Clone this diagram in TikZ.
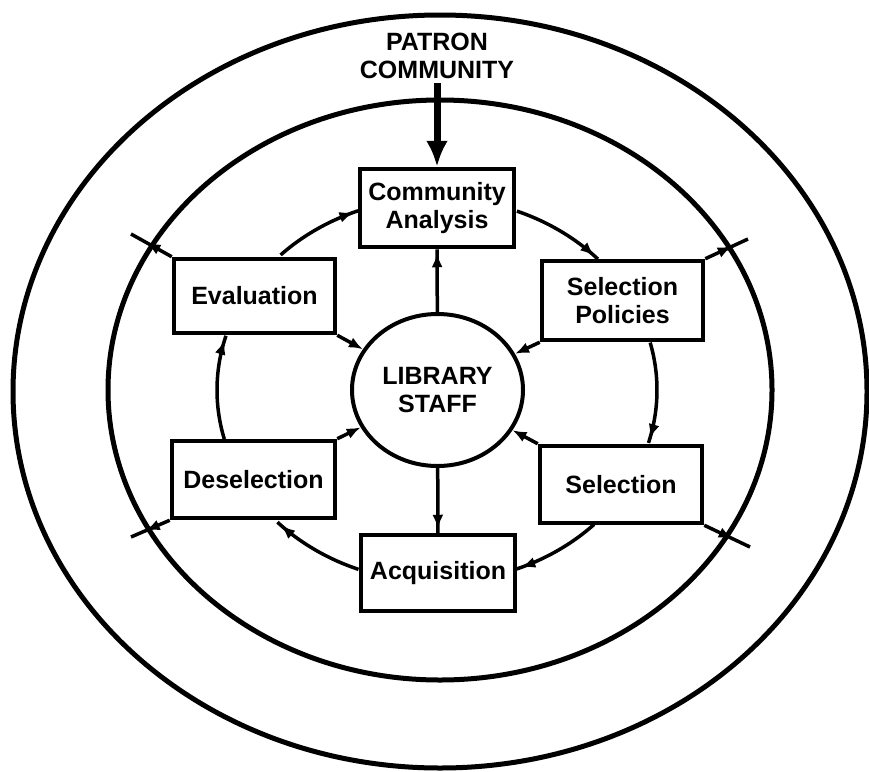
\documentclass[tikz,border=0pt]{standalone}
\usepackage{fontspec}
\setmainfont{Liberation Sans}
\usetikzlibrary{arrows.meta,decorations.markings,shapes.geometric}
\begin{document}
\begin{tikzpicture}[x=1pt,y=-1pt,
  >={Latex[length=14pt,width=11pt]},
  ring/.style={line width=5pt},
  stage/.style={draw, line width=4.5pt, fill=white, inner sep=0pt, align=center,
    font=\fontsize{25}{28}\selectfont\bfseries},
  conn/.style={line width=3.5pt},
  tipat/.style={postaction={decorate},
    decoration={markings, mark=at position #1 with {\arrow{>}}}},
]
\useasboundingbox (0,0) rectangle (869,771);
% rings
\draw[ring] (440,391.5) ellipse[x radius=427, y radius=376.5];
\draw[ring] (440,390) ellipse[x radius=332, y radius=290];
% nodes
\node[font=\fontsize{25}{28}\selectfont\bfseries, align=center, inner sep=4pt]
  (patron) at (437,56) {PATRON\\COMMUNITY};
\node[stage, minimum width=154pt, minimum height=78pt] (comm) at (437,208) {Community\\Analysis};
\node[stage, minimum width=161pt, minimum height=74pt] (eval) at (254.5,296) {Evaluation};
\node[stage, minimum width=161pt, minimum height=79pt] (spol) at (622.5,300.5) {Selection\\Policies};
\node[stage, minimum width=163pt, minimum height=77pt] (desel) at (253.5,479.5) {Deselection};
\node[stage, minimum width=162pt, minimum height=77pt] (sel) at (621,484.5) {Selection};
\node[stage, minimum width=154pt, minimum height=76pt] (acq) at (438,573) {Acquisition};
\node[stage, ellipse, line width=4pt, minimum width=171pt, minimum height=152pt] (lib) at (437.5,390) {LIBRARY\\STAFF};
% free ends of the ticks on the middle ring
\coordinate (t1) at (131,234);
\coordinate (t2) at (748,239);
\coordinate (t3) at (750,547);
\coordinate (t4) at (131,537);
% patron arrow
\draw[line width=7pt, -{Latex[length=26pt,width=22pt]}] (patron.south) -- (comm.north);
% cycle arcs
\draw[conn, tipat=-5pt] plot[domain=-68.7:-43, samples=40] ({437+220*cos(\x)},{390+192*sin(\x)});
\draw[conn, tipat=-5pt] plot[domain=-14.3:16, samples=40] ({437+220*cos(\x)},{390+192*sin(\x)});
\draw[conn, tipat=-5pt] plot[domain=44.4:68.8, samples=40] ({437+220*cos(\x)},{390+192*sin(\x)});
\draw[conn, tipat=-5pt] plot[domain=110.9:136.5, samples=40] ({437+220*cos(\x)},{390+192*sin(\x)});
\draw[conn, tipat=-5pt] plot[domain=165.2:196.4, samples=40] ({437+220*cos(\x)},{390+192*sin(\x)});
\draw[conn, tipat=-5pt] plot[domain=224.7:249, samples=40] ({437+220*cos(\x)},{390+192*sin(\x)});
% centre links
\draw[conn, tipat=-4pt] (lib) -- (comm);
\draw[conn, tipat=-4pt] (lib) -- (acq);
\draw[conn, ->] (eval.south east) -- (lib);
\draw[conn, ->] (spol.south west) -- (lib);
\draw[conn, ->] (sel.north west) -- (lib);
\draw[conn, ->] (desel.north east) -- (lib);
% outward ticks
\draw[conn, tipat=0.62] (eval.north west) -- (t1);
\draw[conn, tipat=0.62] (spol.north east) -- (t2);
\draw[conn, tipat=0.62] (sel.south east) -- (t3);
\draw[conn, tipat=0.62] (desel.south west) -- (t4);
\end{tikzpicture}
\end{document}
